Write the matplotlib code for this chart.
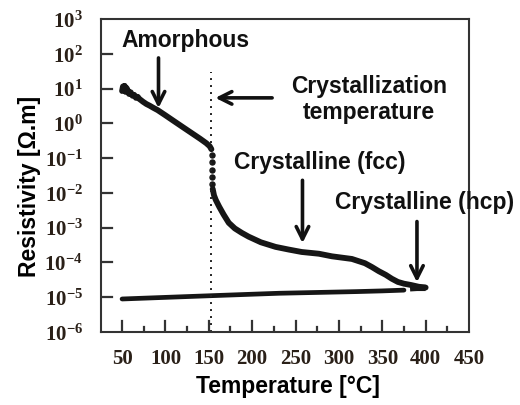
import math
import matplotlib
matplotlib.use('Agg')
import matplotlib.pyplot as plt
from matplotlib.ticker import FixedLocator, FuncFormatter

plt.rcParams['mathtext.fontset'] = 'custom'
plt.rcParams['mathtext.rm'] = 'Liberation Serif:bold'
plt.rcParams['mathtext.bf'] = 'Liberation Serif:bold'

# heating, amorphous phase
amor_t = [50, 51, 52, 53, 54, 55, 56, 58, 60, 62, 64, 66, 68, 70, 72, 74, 78,
          82, 86, 91, 100, 110, 120, 130, 140, 147, 151, 153]
amor_r = [8.5, 11.5, 9.0, 12.0, 8.0, 10.5, 9.5, 7.0, 7.8, 6.2, 6.6, 5.4, 5.8,
          5.0, 4.6, 4.2, 3.6, 3.2, 2.8, 2.4, 1.7, 1.15, 0.78, 0.53, 0.36,
          0.27, 0.22, 0.18]

# sharp drop at the crystallization temperature
drop_t = [153.5, 153.6, 153.7, 153.8, 154.0]
drop_r = [0.12, 0.075, 0.045, 0.028, 0.018]

# heating, crystalline phase
cryst_t = [154.5, 156, 158, 162, 167, 173, 180, 188, 196, 210, 227, 242, 257,
           277, 292, 315, 330, 338, 346, 354, 361, 368, 375, 383, 392, 400]
cryst_r = [1.3e-2, 8.5e-3, 6.3e-3, 4.0e-3, 2.4e-3, 1.38e-3, 9.5e-4, 7.1e-4,
           5.5e-4, 3.8e-4, 2.8e-4, 2.35e-4, 2.0e-4, 1.78e-4, 1.5e-4, 1.26e-4,
           9.5e-5, 7.4e-5, 5.6e-5, 4.4e-5, 3.4e-5, 2.75e-5, 2.45e-5, 2.25e-5,
           2.0e-5, 1.9e-5]

# cooling back down
cool_t = [50, 100, 150, 200, 231, 280, 320, 350, 375]
cool_r = [8.9e-6, 9.9e-6, 1.1e-5, 1.22e-5, 1.3e-5, 1.38e-5, 1.45e-5, 1.52e-5, 1.6e-5]
cool2_t = [382, 390, 400]
cool2_r = [1.8e-5, 1.85e-5, 1.85e-5]

t_cryst = 153
x_ticks = [50, 100, 150, 200, 250, 300, 350, 400, 450]
x_minor = [75, 125, 175, 225, 275, 325, 375, 425]
y_exps = [-6, -5, -4, -3, -2, -1, 0, 1, 2, 3]

W, H = 520, 405
ax_w, ax_h = 368, 313
fig = plt.figure(figsize=(W / 100, H / 100), dpi=100)
ax = fig.add_axes([101 / W, 1 - 332 / H, ax_w / W, ax_h / H])

ink = '#161616'
ax.plot(amor_t, amor_r, color=ink, lw=4.2, solid_capstyle='round', solid_joinstyle='round')
ax.plot(drop_t, drop_r, ls='none', marker='o', ms=3.6, color=ink)
ax.plot(cryst_t, cryst_r, color=ink, lw=4.2, solid_capstyle='round', solid_joinstyle='round')
ax.plot(cool_t, cool_r, color=ink, lw=3.4, solid_capstyle='round')
ax.plot(cool2_t, cool2_r, color=ink, lw=4.5, solid_capstyle='butt')

ax.set_yscale('log')
ax.set_xlim(25.7, 450)
ax.set_ylim(1e-6, 1e3)

# dotted marker for the crystallization temperature (top at ~10^1.48)
ax.plot([t_cryst, t_cryst], [1e-6, 10 ** 1.48], color='#222222', lw=1.4,
        ls=(0, (1, 2.6)))

ax.xaxis.set_major_locator(FixedLocator(x_ticks))
ax.xaxis.set_minor_locator(FixedLocator(x_minor))
ax.yaxis.set_major_locator(FixedLocator([10.0 ** e for e in y_exps]))
ax.yaxis.set_minor_locator(FixedLocator([]))
ax.yaxis.set_major_formatter(FuncFormatter(
    lambda v, p: r'$\mathbf{10^{%d}}$' % round(math.log10(v))))

frame_col = '#333333'
lab_col = '#2a2018'
# the axis only supplies labels; tick marks are short lines inside the box
ax.tick_params(axis='both', which='both', length=0, labelsize=15,
               labelcolor=lab_col, top=False, right=False)
ax.tick_params(axis='x', which='major', pad=12)
ax.tick_params(axis='y', which='major', pad=13)
for lbl in ax.get_xticklabels():
    lbl.set_fontfamily('Liberation Serif')
    lbl.set_fontweight('bold')
for s in ax.spines.values():
    s.set_color(frame_col)
    s.set_linewidth(1.5)

xt = ax.get_xaxis_transform()
yt = ax.get_yaxis_transform()
for t in x_ticks[:-1]:
    ax.plot([t, t], [0, 11 / ax_h], transform=xt, color=frame_col, lw=1.6)
for t in x_minor:
    ax.plot([t, t], [0, 5.5 / ax_h], transform=xt, color=frame_col, lw=1.6)
for e in y_exps[1:-1]:
    ax.plot([0, 11 / ax_w], [10.0 ** e, 10.0 ** e], transform=yt,
            color=frame_col, lw=1.6)

sans = 'Liberation Sans'
fig.text(288 / W, 1 - 386 / H, 'Temperature [°C]', ha='center', va='center',
         fontsize=16.5, fontweight='bold', family=sans)
fig.text(30 / W, 1 - 186 / H, 'Resistivity [Ω.m]', ha='center', va='center',
         rotation=90, fontsize=16.5, fontweight='bold', family=sans)

notes = [('Amorphous', 185, 41),
         ('Crystallization', 369, 87),
         ('temperature', 369, 113),
         ('Crystalline (fcc)', 320, 162),
         ('Crystalline (hcp)', 425, 203)]
for txt, px, py in notes:
    fig.text(px / W, 1 - py / H, txt, ha='center', va='center', fontsize=16.5,
             fontweight='bold', family=sans, color='#111111')

arrow = dict(arrowstyle='->,head_length=0.9,head_width=0.45', color='#111111',
             lw=2.6, shrinkA=0, shrinkB=0)
ax.annotate('', xy=(92, 2.75), xytext=(92, 76), arrowprops=arrow)
ax.annotate('', xy=(157.5, 5.4), xytext=(223, 5.4), arrowprops=arrow)
ax.annotate('', xy=(258, 3.6e-4), xytext=(258, 2.3e-2), arrowprops=arrow)
ax.annotate('', xy=(390, 2.7e-5), xytext=(390, 1.5e-3), arrowprops=arrow,
            annotation_clip=False)

fig.savefig('out.png', dpi=100, facecolor='white')
